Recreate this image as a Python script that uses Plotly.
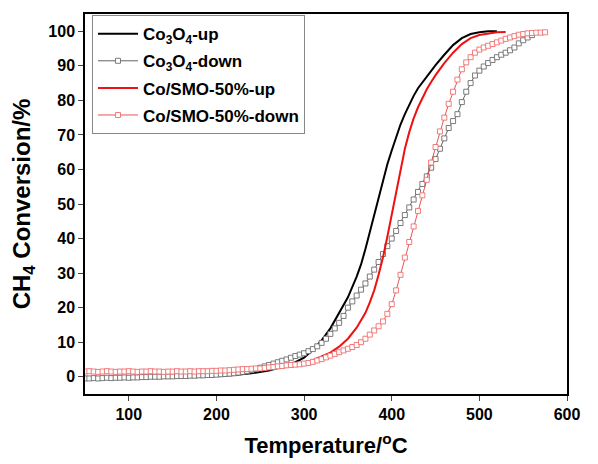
import plotly.graph_objects as go

# ---- data ----
T_down = list(range(50, 565, 5))
co3o4_down = [-0.5, -0.5, -0.4, -0.5, -0.4, -0.3, -0.4, -0.3, -0.3, -0.2,
              -0.3, -0.2, -0.2, -0.1, -0.1, 0.0, 0.0, 0.0, 0.1, 0.1,
              0.1, 0.2, 0.2, 0.2, 0.3, 0.3, 0.4, 0.4, 0.5, 0.5,
              0.6, 0.7, 0.8, 0.9, 1.0, 1.2, 1.4, 1.6, 1.9, 2.2,
              2.6, 3.0, 3.4, 3.8, 4.2, 4.6, 5.0, 5.5, 6.0, 6.4,
              6.8, 7.4, 8.0, 8.8, 9.8, 11.0, 12.4, 14.0, 15.6, 17.6,
              20.0, 21.8, 23.5, 25.2, 27.0, 29.0, 31.0, 33.2, 35.5, 37.8,
              40.0, 42.2, 44.5, 46.8, 49.0, 51.3, 53.5, 55.8, 58.0, 60.5,
              63.0, 66.0, 69.0, 72.0, 74.0, 76.0, 79.5, 82.5, 85.0, 87.2,
              88.6, 89.8, 90.8, 91.7, 92.5, 93.2, 93.8, 94.5, 95.3, 96.5,
              97.4, 98.2, 98.9]

T_red_down = list(range(50, 580, 5))
smo_down = [1.5, 1.6, 1.5, 1.4, 1.5, 1.6, 1.5, 1.4, 1.5, 1.5,
            1.6, 1.5, 1.4, 1.5, 1.5, 1.6, 1.5, 1.5, 1.4, 1.5,
            1.5, 1.6, 1.5, 1.5, 1.6, 1.5, 1.6, 1.6, 1.6, 1.7,
            1.7, 1.8, 1.8, 1.9, 2.0, 2.1, 2.2, 2.2, 2.3, 2.4,
            2.4, 2.5, 2.7, 2.8, 3.0, 3.1, 3.3, 3.4, 3.5, 3.6,
            3.8, 4.0, 4.3, 4.7, 5.1, 5.6, 6.1, 6.6, 7.1, 7.6,
            8.1, 8.6, 9.2, 10.0, 11.0, 12.2, 13.4, 14.6, 16.0, 18.2,
            21.0, 25.0, 29.5, 34.5, 39.0, 43.5, 48.0, 52.5, 57.0, 62.0,
            66.5, 71.0, 75.0, 79.0, 82.5, 86.0, 89.0, 91.0, 92.5, 93.8,
            94.7, 95.3, 95.8, 96.3, 96.8, 97.3, 97.8, 98.2, 98.6, 99.0,
            99.2, 99.4, 99.5, 99.6, 99.6, 99.7]

T_black_up = [120, 140, 160, 180, 200, 220, 240, 260, 280, 290, 300, 310, 320,
              330, 340, 350, 360, 365, 370, 375, 380, 385, 390, 395, 400, 405,
              410, 415, 420, 425, 430, 440, 450, 460, 470, 480, 490, 500, 510, 520]
co3o4_up = [-0.3, -0.2, -0.1, 0.0, 0.2, 0.5, 1.0, 1.8, 3.2, 4.2, 5.5, 7.8, 10.5,
            14.0, 18.5, 23.0, 29.0, 32.5, 37.0, 42.0, 47.0, 52.0, 57.0, 61.5, 65.5, 69.5,
            73.0, 76.0, 78.8, 81.3, 83.5, 87.0, 90.2, 93.2, 96.0, 98.0, 99.2, 99.7, 100.0, 100.0]

T_red_up = [110, 130, 150, 170, 190, 210, 230, 250, 270, 290, 300, 310, 320, 330,
            340, 350, 360, 365, 370, 375, 380, 385, 390, 395, 400, 405, 410, 415,
            420, 425, 430, 435, 440, 445, 450, 460, 470, 480, 490, 500, 510, 520, 530]
smo_up = [1.3, 1.4, 1.3, 1.4, 1.5, 1.6, 1.8, 2.1, 2.6, 3.5, 4.0, 4.8, 5.8, 7.0,
          8.7, 11.0, 14.2, 16.2, 18.5, 21.5, 25.0, 29.5, 34.5, 40.5, 47.0, 54.0, 60.5, 66.0,
          70.8, 74.8, 78.0, 80.8, 83.2, 85.3, 87.3, 90.8, 93.8, 96.3, 98.0, 98.9, 99.4, 99.7, 99.8]

x_ticks = [100, 200, 300, 400, 500, 600]
y_ticks = [0, 10, 20, 30, 40, 50, 60, 70, 80, 90, 100]

FONT = "Arial, Liberation Sans, sans-serif"

fig = go.Figure()
fig.add_trace(go.Scatter(x=T_black_up, y=co3o4_up, mode="lines",
                         name="Co<sub>3</sub>O<sub>4</sub>-up", legendgroup="a",
                         line=dict(color="black", width=2)))
fig.add_trace(go.Scatter(x=T_down, y=co3o4_down, mode="lines+markers",
                         name="Co<sub>3</sub>O<sub>4</sub>-down", legendgroup="b",
                         line=dict(color="rgba(60,60,60,0.8)", width=1),
                         marker=dict(symbol="square", size=5, color="white",
                                     line=dict(color="rgba(110,110,110,0.9)", width=1))))
fig.add_trace(go.Scatter(x=T_red_up, y=smo_up, mode="lines",
                         name="Co/SMO-50%-up", legendgroup="c",
                         line=dict(color="#ee1111", width=2)))
fig.add_trace(go.Scatter(x=T_red_down, y=smo_down, mode="lines+markers",
                         name="Co/SMO-50%-down", legendgroup="d",
                         line=dict(color="rgba(230,40,40,0.8)", width=1),
                         marker=dict(symbol="square", size=5, color="white",
                                     line=dict(color="rgba(240,110,110,0.9)", width=1))))

# page body has an 8px default margin, so the figure is sized/offset to compensate
fig.update_layout(
    width=590, height=456,
    margin=dict(l=77, r=31, t=6, b=70),
    paper_bgcolor="white", plot_bgcolor="white",
    font=dict(family=FONT, size=16, color="black", weight="bold"),
    showlegend=True,
    legend=dict(x=0.0145, y=0.997, xanchor="left", yanchor="top",
                bgcolor="white", bordercolor="#888", borderwidth=1,
                font=dict(family=FONT, size=17, color="black", weight="bold"),
                tracegroupgap=2, itemwidth=40),
    xaxis=dict(range=[50, 600], tickvals=x_ticks, ticks="outside", ticklen=5,
               showline=True, linecolor="black", linewidth=1.5, mirror=True,
               showgrid=False, zeroline=False, automargin=False,
               tickfont=dict(family=FONT, size=16, weight="bold"),
               title=dict(text="Temperature/<sup>o</sup>C",
                          font=dict(family=FONT, size=22, weight="bold"), standoff=16)),
    yaxis=dict(range=[-5, 105], tickvals=y_ticks, ticks="outside", ticklen=5,
               showline=True, linecolor="black", linewidth=1.5, mirror=True,
               showgrid=False, zeroline=False, automargin=False,
               tickfont=dict(family=FONT, size=16, weight="bold"),
               title=dict(text="CH<sub>4</sub> Conversion/%",
                          font=dict(family=FONT, size=24, weight="bold"), standoff=12)),
)

fig.write_html("out.html")
